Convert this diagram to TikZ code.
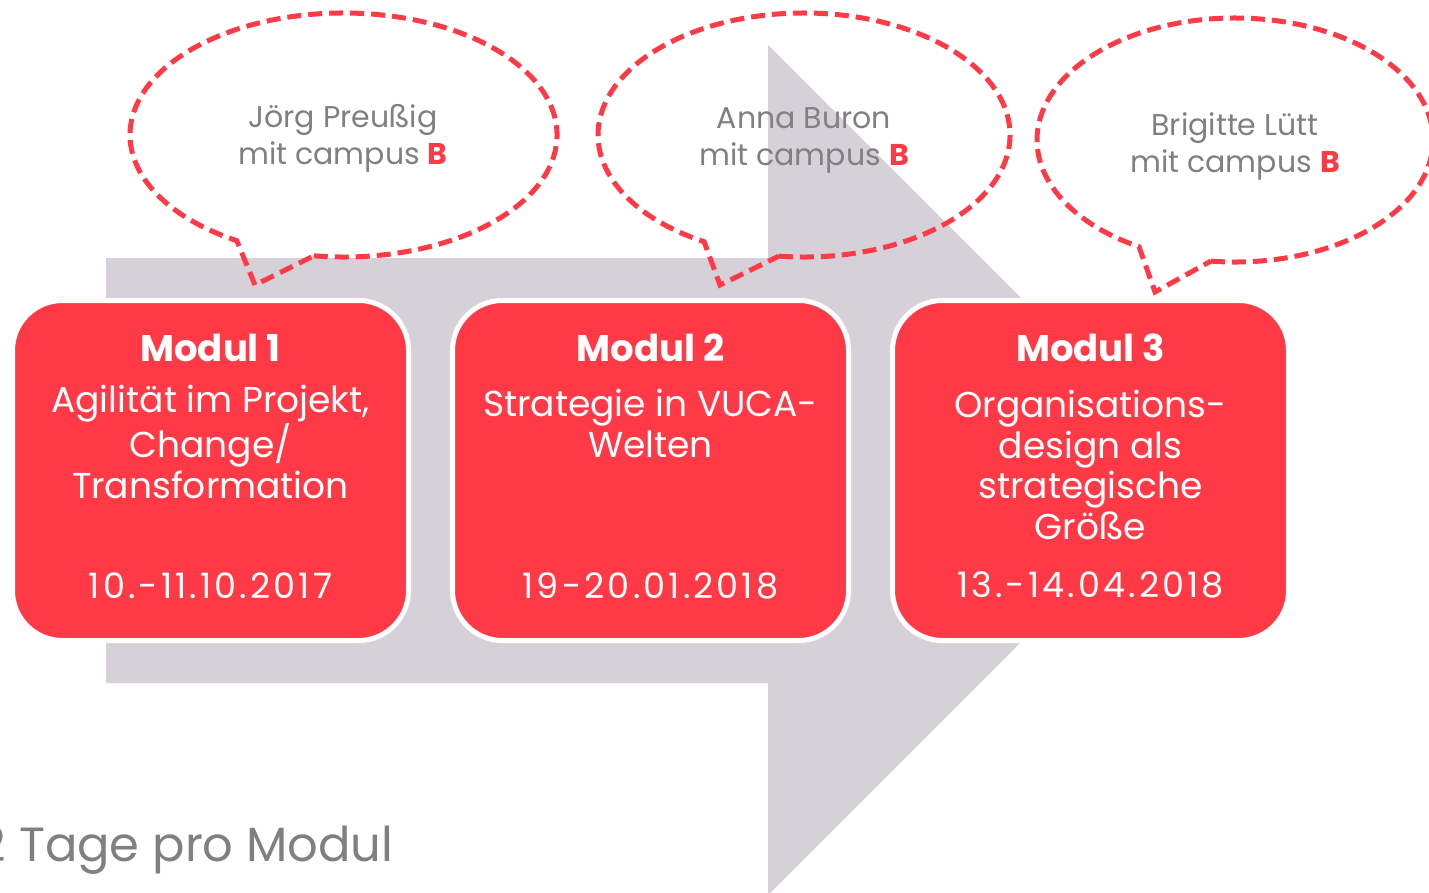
\documentclass[tikz,border=0pt]{standalone}
\usepackage{fontspec}
\setmainfont{Poppins}
\usetikzlibrary{positioning}
\definecolor{modred}{RGB}{255,57,70}
\definecolor{arrowgray}{RGB}{214,209,217}
\definecolor{textgray}{RGB}{128,128,128}
\tikzset{
	modul/.style={ rounded corners=50pt, fill=modred, draw=white, line width=5pt, minimum width=396pt, minimum height=340pt, inner sep=0pt },
	modtitle/.style={ anchor=base, text=white, font=\fontsize{37}{40}\selectfont\bfseries },
	modtext/.style={ anchor=base, text=white, align=center, font=\fontsize{36}{40.5}\selectfont },
	moddate/.style={ anchor=base, text=white, font=\fontsize{35}{40}\selectfont\addfontfeature{LetterSpace=9} },
	bubble/.style={ draw=modred, line width=5pt, dash pattern=on 14pt off 7pt },
	speaker/.style={ anchor=base, text=textgray, align=center, font=\fontsize{30}{37}\selectfont }
}
\newcommand{\campusb}{mit campus {\bfseries\color{modred}B}}
\begin{document}
\begin{tikzpicture}[ x=1pt, y=-1pt ]
	  \useasboundingbox (0,0) rectangle (1429,892);
	  \fill [ arrowgray ] (106,258)--(768,258)--(768,45)--(1193,470)--(768,895)--(768,683)--(106,683)--cycle;

	  \node [ modul ] (m1) at (210.5,470.5) {};
	  \node [ modul, right=39pt of m1 ] (m2) {};
	  \node [ modul, right=39pt of m2 ] (m3) {};

	  \node [ modtitle ] (t1) at ([yshift=-63pt] m1.north) {Modul 1};
	  \node [ modtitle ] (t2) at ([yshift=-63pt] m2.north) {Modul 2};
	  \node [ modtitle ] (t3) at ([yshift=-63pt] m3.north) {Modul 3};

	  \node [ modtext ] (b1) at ([yshift=-200pt] m1.north) {Agilität im Projekt,\\Change/\\Transformation};
	  \node [ modtext ] (b2) at ([yshift=-159pt] m2.north) {Strategie in VUCA-\\Welten};
	  \node [ modtext ] (b3) at ([yshift=-241pt] m3.north) {Organisations-\\design als\\strategische\\Größe};

	  \node [ moddate ] (d1) at ([yshift=45pt] m1.south) {10.-11.10.2017};
	  \node [ moddate ] (d2) at ([yshift=45pt] m2.south) {19-20.01.2018};
	  \node [ moddate ] (d3) at ([yshift=46pt] m3.south) {13.-14.04.2018};

	  \coordinate (c1) at (343.5,135);
	  \coordinate (c2) at (804,135);
	  \coordinate (c3) at (1235,140);
	  \coordinate (tip1) at (255,285);
	  \coordinate (tip2) at (720,285);
	  \coordinate (tip3) at (1155,292);

	  \draw [ bubble ] (c1) ++(98:213.5 and 122) arc [ start angle=98, end angle=-240, x radius=213.5, y radius=122 ]--(tip1)--cycle;
	  \draw [ bubble ] (c2) ++(97:206 and 122) arc [ start angle=97, end angle=-241, x radius=206, y radius=122 ]--(tip2)--cycle;
	  \draw [ bubble ] (c3) ++(97:198 and 122) arc [ start angle=97, end angle=-241, x radius=198, y radius=122 ]--(tip3)--cycle;

	  \node [ speaker ] (joerg) at (343,164) {Jörg Preußig\\\campusb};
	  \node [ speaker ] (anna) at (804,165) {Anna Buron\\\campusb};
	  \node [ speaker ] (brigitte) at (1235,172) {Brigitte Lütt\\\campusb};

	  \node [ anchor=base east, text=textgray, font=\fontsize{48}{50}\selectfont ] (tage) at (397,861) {2 Tage pro Modul};
	\end{tikzpicture}
\end{document}
